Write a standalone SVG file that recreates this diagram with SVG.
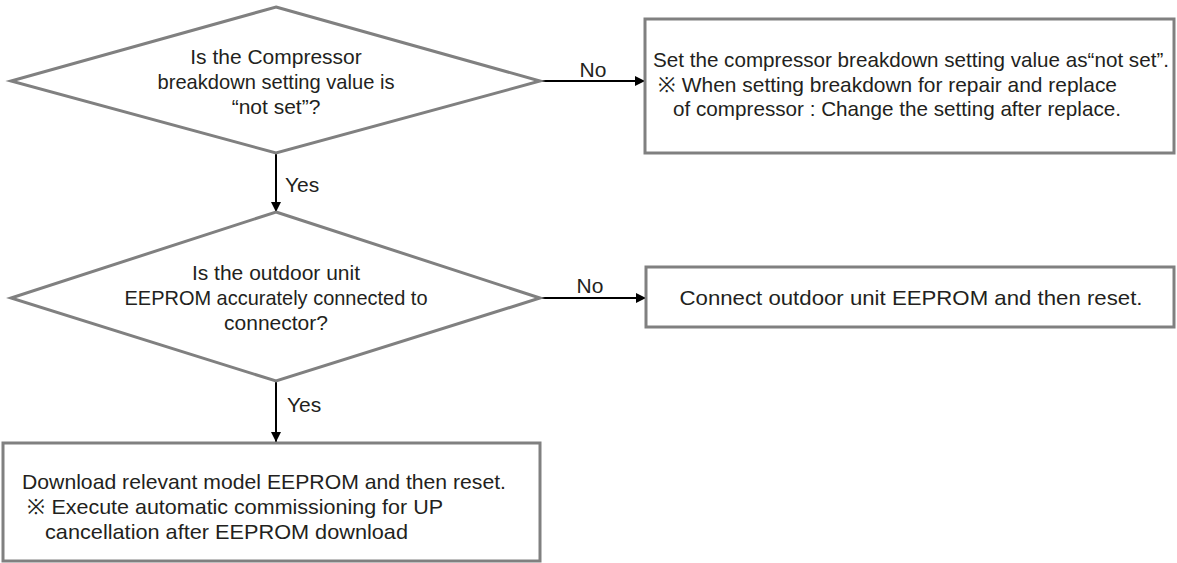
<svg xmlns="http://www.w3.org/2000/svg" width="1177" height="563" viewBox="0 0 1177 563">
  <defs>
    <marker id="arrow" viewBox="0 0 10 10" refX="10" refY="5" markerWidth="10" markerHeight="10" markerUnits="userSpaceOnUse" orient="auto">
      <path d="M0,0 L10,5 L0,10 z" fill="#000"/>
    </marker>
    <style>
      .shape { fill: #fff; stroke: #808080; stroke-width: 3; }
      .txt { font-family: "Liberation Sans", Arial, sans-serif; font-size: 21px; fill: #231f20; }
      .mid { text-anchor: middle; }
      .edge { stroke: #000; stroke-width: 2; fill: none; marker-end: url(#arrow); }
    </style>
  </defs>
  <rect width="1177" height="563" fill="#fff"/>

  <g id="connectors">
    <line class="edge" x1="276" y1="153" x2="276" y2="212"/>
    <line class="edge" x1="540" y1="81" x2="645" y2="81"/>
    <line class="edge" x1="540" y1="298" x2="646" y2="298"/>
    <line class="edge" x1="276" y1="381" x2="276" y2="442"/>
    <text class="txt mid" x="593" y="77">No</text>
    <text class="txt mid" x="590" y="293">No</text>
    <text class="txt" x="285" y="192">Yes</text>
    <text class="txt" x="287" y="412">Yes</text>
  </g>

  <g id="decision-compressor">
    <polygon class="shape" points="276,7 540,81 276,153 11,81"/>
    <text class="txt mid" x="276" y="64">Is the Compressor</text>
    <text class="txt mid" x="276" y="89" textLength="237" lengthAdjust="spacingAndGlyphs">breakdown setting value is</text>
    <text class="txt mid" x="276" y="114">“not set”?</text>
  </g>

  <g id="action-not-set">
    <rect class="shape" x="645" y="19" width="529" height="134"/>
    <text class="txt" x="653" y="67" textLength="516" lengthAdjust="spacingAndGlyphs">Set the compressor breakdown setting value as“not set”.</text>
    <text class="txt" x="658" y="92" textLength="459" lengthAdjust="spacingAndGlyphs">※ When setting breakdown for repair and replace</text>
    <text class="txt" x="673" y="116" textLength="448" lengthAdjust="spacingAndGlyphs">of compressor : Change the setting after replace.</text>
  </g>

  <g id="decision-eeprom">
    <polygon class="shape" points="276,212 540,298 276,381 11,298"/>
    <text class="txt mid" x="276" y="280">Is the outdoor unit</text>
    <text class="txt mid" x="276" y="305" textLength="303" lengthAdjust="spacingAndGlyphs">EEPROM accurately connected to</text>
    <text class="txt mid" x="276" y="330">connector?</text>
  </g>

  <g id="action-connect">
    <rect class="shape" x="646" y="267" width="528" height="60"/>
    <text class="txt mid" x="911" y="305" textLength="463" lengthAdjust="spacingAndGlyphs">Connect outdoor unit EEPROM and then reset.</text>
  </g>

  <g id="action-download">
    <rect class="shape" x="3" y="443" width="537" height="118"/>
    <text class="txt" x="22" y="489" textLength="484" lengthAdjust="spacingAndGlyphs">Download relevant model EEPROM and then reset.</text>
    <text class="txt" x="27" y="514" textLength="416" lengthAdjust="spacingAndGlyphs">※ Execute automatic commissioning for UP</text>
    <text class="txt" x="45" y="539" textLength="363" lengthAdjust="spacingAndGlyphs">cancellation after EEPROM download</text>
  </g>
</svg>
